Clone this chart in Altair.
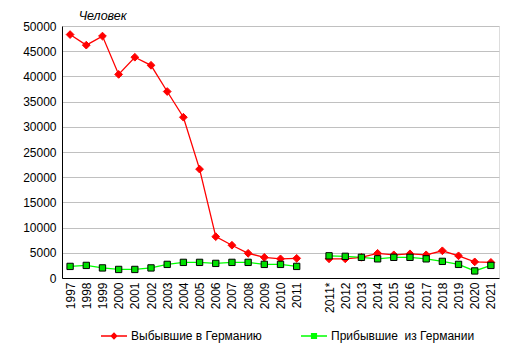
import altair as alt
import pandas as pd

categories = ["1997", "1998", "1999", "2000", "2001", "2002", "2003", "2004", "2005",
              "2006", "2007", "2008", "2009", "2010", "2011", " ", "2011*", "2012",
              "2013", "2014", "2015", "2016", "2017", "2018", "2019", "2020", "2021"]
segments = [1] * 15 + [0] + [2] * 11
out_de = [48300, 46200, 48000, 40400, 43800, 42200, 37000, 31900, 21600, 8200, 6500,
          4900, 4100, 3800, 3900, None, 3800, 3800, 4100, 4900, 4600, 4800, 4600, 5400,
          4400, 3200, 3100]
in_de = [2300, 2500, 2000, 1700, 1700, 2000, 2700, 3100, 3100, 2900, 3100, 3100, 2700,
         2700, 2300, None, 4400, 4300, 4100, 3800, 4100, 4100, 3800, 3300, 2700, 1400, 2500]

S_OUT = "Выбывшие в Германию"
S_IN = "Прибывшие\u00a0 из Германии"
series_names = [S_OUT, S_IN]
line_colors = ["#ff0000", "#00ff00"]
marker_fills = ["#ff0000", "#00e000"]
marker_strokes = ["#ff0000", "#000000"]
marker_shapes = ["diamond", "square"]
marker_sizes = [60, 40]
legend_shapes = ["M-1,0H1M0,-0.2L0.2,0L0,0.2L-0.2,0Z",
                 "M-1,0H1M-0.18,-0.18H0.18V0.18H-0.18Z"]

rows = []
for name, vals in [(S_OUT, out_de), (S_IN, in_de)]:
    for c, s, v in zip(categories, segments, vals):
        if v is not None:
            rows.append({"year": c, "seg": s, "value": v, "series": name})
df = pd.DataFrame(rows)

FONT = "Liberation Sans"

x_enc = alt.X("year:N", sort=categories,
              scale=alt.Scale(domain=categories, type="point", padding=0.5),
              axis=alt.Axis(title=None, labelAngle=-90, ticks=False, labelPadding=4,
                            labelFont=FONT, labelFontSize=12, labelColor="#000000",
                            domainColor="#000000", grid=False, labelOverlap=False))
y_enc = alt.Y("value:Q",
              scale=alt.Scale(domain=[0, 50000], nice=False),
              axis=alt.Axis(title=None, values=list(range(0, 50001, 5000)), ticks=False,
                            labelPadding=6, labelFont=FONT, labelFontSize=12,
                            labelColor="#000000", domainColor="#000000",
                            gridColor="#c0c0c0", format="d"))

base = alt.Chart(df)

lines = base.mark_line(strokeWidth=1.3).encode(
    x=x_enc, y=y_enc,
    color=alt.Color("series:N", scale=alt.Scale(domain=series_names, range=line_colors),
                    legend=None),
    detail="seg:N",
)

points = base.mark_point(filled=True, opacity=1, strokeWidth=1).encode(
    x=x_enc, y=y_enc,
    fill=alt.Fill("series:N", scale=alt.Scale(domain=series_names, range=marker_fills),
                  legend=None),
    stroke=alt.Stroke("series:N", scale=alt.Scale(domain=series_names, range=marker_strokes),
                      legend=None),
    shape=alt.Shape("series:N", scale=alt.Scale(domain=series_names, range=marker_shapes),
                    legend=None),
    size=alt.Size("series:N", scale=alt.Scale(domain=series_names, range=marker_sizes),
                  legend=None),
)

def make_legend():
    return alt.Legend(
        title=None, orient="none", legendX=38, legendY=296,
        direction="horizontal", columnPadding=36,
        symbolSize=676, symbolStrokeWidth=1.5, symbolOpacity=1,
        labelFont=FONT, labelFontSize=12, labelColor="#000000",
        labelOffset=3, padding=0)

legend_layer = base.mark_point(filled=True, opacity=0).encode(
    x=x_enc, y=y_enc,
    fill=alt.Fill("series:N", scale=alt.Scale(domain=series_names, range=line_colors),
                  legend=make_legend()),
    stroke=alt.Stroke("series:N", scale=alt.Scale(domain=series_names, range=line_colors),
                      legend=make_legend()),
    shape=alt.Shape("series:N", scale=alt.Scale(domain=series_names, range=legend_shapes),
                    legend=make_legend()),
)

chart = alt.layer(lines, points, legend_layer).resolve_scale(
    fill="independent", stroke="independent", shape="independent", size="independent"
).properties(
    width=437, height=252,
    autosize=alt.AutoSizeParams(type="none"),
    padding={"left": 62, "top": 26, "right": 14, "bottom": 77},
    title=alt.TitleParams("Человек", anchor="start", fontStyle="italic", fontWeight="normal",
                          font=FONT, fontSize=12.5, color="#000000", dx=56, dy=2, offset=0),
).configure_view(stroke="#808080", strokeWidth=1).configure(background="white")

chart.save("out.html", embed_options={"renderer": "svg", "actions": False})
